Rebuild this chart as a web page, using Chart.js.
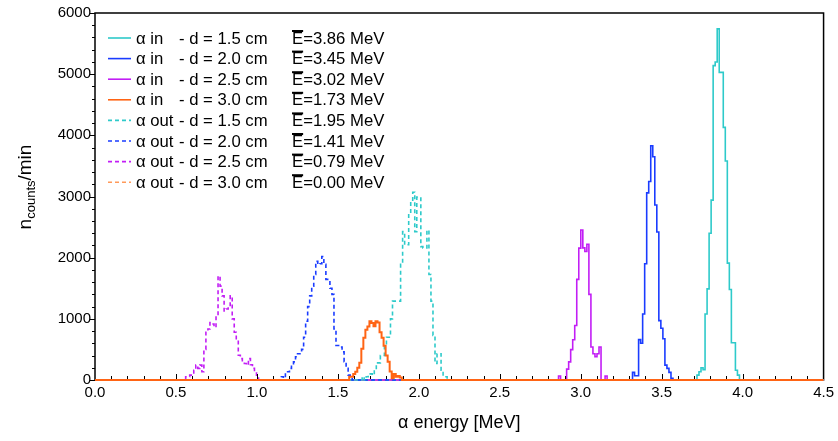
<!DOCTYPE html>
<html>
<head>
<meta charset="utf-8">
<script src="https://cdn.jsdelivr.net/npm/chart.js@4"></script>
<style>
  body { margin: 0; background: #fff; }
  #wrap { width: 838px; height: 441px; }
</style>
</head>
<body>
<div id="wrap"><canvas id="c" width="838" height="441"></canvas></div>
<script>
// histogram bin width in MeV
const binWidth = 0.0125;

const distances = ['1.5', '2.0', '2.5', '3.0'];
const meanIn = ['3.86', '3.45', '3.02', '1.73'];
const meanOut = ['1.95', '1.41', '0.79', '0.00'];
const colors = ['#2ecaca', '#1a3cff', '#c21ef5', '#ff6414'];
const outColors = ['#2ecaca', '#1a3cff', '#c21ef5', '#ff9a5a'];

// alpha in: first bin energy + counts per bin
const inStart = [3.718, 3.320, 2.863, 1.570];
const in15 = [80, 135, 200, 170, 1080, 1490, 2400, 2940, 5140, 5200, 5740, 5030, 5030, 4130, 3580, 1910, 1480, 610, 610, 160, 80];
const in20 = [124, 70, 70, 660, 600, 1080, 1900, 3060, 3245, 3830, 3650, 2860, 2420, 970, 846, 674, 243, 190, 124, 27];
const in25 = [65, 0, 0, 0, 178, 296, 496, 658, 890, 1645, 2156, 2452, 2160, 2100, 2220, 1400, 540, 430, 380, 430, 540, 0, 0, 65];
const in30 = [54, 54, 100, 135, 200, 280, 512, 690, 820, 873, 960, 930, 880, 960, 940, 780, 690, 560, 400, 300, 140, 27, 97, 54, 65, 40];

// alpha out
const outStart = [1.650, 1.151, 0.560, 2.0];
const out15 = [54, 0, 54, 80, 100, 80, 160, 280, 280, 400, 400, 560, 700, 700, 1000, 1290, 1290, 1290, 1290, 1890, 2425, 2210, 2210, 2700, 2910, 3070, 2425, 2990, 2990, 2180, 2160, 2160, 2450, 1725, 1290, 730, 270, 430, 430, 160, 54, 54];
const out20 = [54, 30, 135, 135, 190, 240, 296, 380, 430, 430, 500, 700, 960, 1200, 1375, 1535, 1725, 1940, 1890, 1900, 2020, 1890, 1645, 1645, 1500, 1400, 835, 565, 565, 540, 460, 300, 190, 80, 54];
const out25 = [54, 54, 80, 80, 160, 243, 190, 243, 135, 500, 780, 835, 940, 916, 862, 1050, 1700, 1535, 1375, 1130, 1160, 1200, 1375, 1000, 780, 674, 404, 350, 300, 270, 243, 350, 250, 190, 135, 80];
const out30 = [];

const xTicks = [0, 0.5, 1.0, 1.5, 2.0, 2.5, 3.0, 3.5, 4.0, 4.5];
const yTicks = [0, 1000, 2000, 3000, 4000, 5000, 6000];

function histPoints(start, counts) {
  const pts = [{ x: 0, y: 0 }];
  counts.forEach((c, i) => pts.push({ x: start + i * binWidth, y: c }));
  pts.push({ x: start + counts.length * binWidth, y: 0 });
  pts.push({ x: 4.5, y: 0 });
  return pts;
}

const inCounts = [in15, in20, in25, in30];
const outCounts = [out15, out20, out25, out30];

const datasets = [];
inCounts.forEach((c, i) => {
  datasets.push({
    label: 'in ' + distances[i],
    data: histPoints(inStart[i], c),
    borderColor: colors[i],
    borderWidth: i === 3 ? 2 : 1.6,
    stepped: 'before',
    pointRadius: 0,
    clip: 3,
    order: i === 3 ? 0 : 2,
  });
});
outCounts.forEach((c, i) => {
  datasets.push({
    label: 'out ' + distances[i],
    data: histPoints(outStart[i], c),
    borderColor: outColors[i],
    borderWidth: 1.6,
    borderDash: [4, 3],
    stepped: 'before',
    pointRadius: 0,
    clip: 3,
    order: 1,
  });
});

const FONT = '"Liberation Sans", Arial, sans-serif';

const decorations = {
  id: 'decorations',
  beforeDatasetsDraw(chart) {
    const { ctx, chartArea: a } = chart;
    ctx.save();
    ctx.strokeStyle = '#000';
    ctx.lineWidth = 1.5;
    ctx.strokeRect(a.left, a.top, a.right - a.left, a.bottom - a.top);
    ctx.restore();
  },
  afterDraw(chart) {
    const { ctx, chartArea: a, scales } = chart;
    const xs = scales.x, ys = scales.y;
    ctx.save();
    ctx.strokeStyle = '#000';

    // x ticks, inward, major 0.5 minor 0.1
    ctx.lineWidth = 1;
    for (let i = 1; i < 45; i++) {
      const px = Math.round(xs.getPixelForValue(i / 10)) + 0.5;
      const len = i % 5 === 0 ? 5 : 3;
      ctx.beginPath();
      ctx.moveTo(px, a.bottom - 1);
      ctx.lineTo(px, a.bottom - 1 - len);
      ctx.stroke();
    }
    // y ticks, outward, major 1000 minor 200
    for (let v = 0; v <= 6000; v += 200) {
      const py = Math.round(ys.getPixelForValue(v)) + 0.5;
      const len = v % 1000 === 0 ? 5 : 3;
      ctx.beginPath();
      ctx.moveTo(a.left, py);
      ctx.lineTo(a.left - len, py);
      ctx.stroke();
    }

    // axis titles
    ctx.fillStyle = '#000';
    ctx.textBaseline = 'middle';
    ctx.textAlign = 'center';
    ctx.font = '18px ' + FONT;
    ctx.fillText('\u03b1 energy [MeV]', (a.left + a.right) / 2, 423);

    ctx.save();
    ctx.translate(26, 187);
    ctx.rotate(-Math.PI / 2);
    ctx.textAlign = 'left';
    ctx.font = '19px ' + FONT;
    const wN = ctx.measureText('n').width;
    const wM = ctx.measureText('/min').width;
    ctx.font = '13px ' + FONT;
    const wC = ctx.measureText('counts').width;
    let x0 = -(wN + wC + wM) / 2;
    ctx.font = '19px ' + FONT;
    ctx.fillText('n', x0, 0);
    ctx.font = '13px ' + FONT;
    ctx.fillText('counts', x0 + wN, 5);
    ctx.font = '19px ' + FONT;
    ctx.fillText('/min', x0 + wN + wC, 0);
    ctx.restore();

    // legend
    ctx.textAlign = 'left';
    ctx.font = '16.7px ' + FONT;
    const rows = [];
    for (let i = 0; i < 4; i++) rows.push({ kind: 'in', d: distances[i], m: meanIn[i], col: colors[i], dash: [] });
    for (let i = 0; i < 4; i++) rows.push({ kind: 'out', d: distances[i], m: meanOut[i], col: outColors[i], dash: [4, 3] });
    rows.forEach((r, i) => {
      const y = 39 + i * 20.6;
      ctx.strokeStyle = r.col;
      ctx.lineWidth = 1.6;
      ctx.setLineDash(r.dash);
      ctx.beginPath();
      ctx.moveTo(108, y - 1);
      ctx.lineTo(131, y - 1);
      ctx.stroke();
      ctx.setLineDash([]);
      ctx.fillStyle = '#000';
      ctx.fillText('\u03b1 ' + r.kind, 136, y);
      ctx.fillText('- d = ' + r.d + ' cm', 179, y);
      ctx.fillText('E', 292, y);
      const wE = ctx.measureText('E').width;
      ctx.fillRect(292, y - 9, wE, 2);
      ctx.fillText('=' + r.m + ' MeV', 292 + wE, y);
    });
    ctx.restore();
  }
};

new Chart(document.getElementById('c'), {
  type: 'line',
  data: { datasets },
  options: {
    responsive: false,
    animation: false,
    layout: { padding: { top: 9, right: 12, left: 0, bottom: 0 } },
    plugins: { legend: { display: false }, tooltip: { enabled: false } },
    scales: {
      x: {
        type: 'linear',
        min: 0,
        max: 4.5,
        afterBuildTicks: (s) => { s.ticks = xTicks.map(v => ({ value: v })); },
        afterFit: (s) => { s.height = 61; },
        grid: { display: false, drawTicks: false },
        border: { display: false },
        ticks: {
          color: '#000',
          padding: 4,
          maxRotation: 0,
          font: { family: FONT, size: 15 },
          callback: (v) => v.toFixed(1),
        },
      },
      y: {
        type: 'linear',
        min: 0,
        max: 6000,
        afterBuildTicks: (s) => { s.ticks = yTicks.map(v => ({ value: v })); },
        afterFit: (s) => { s.width = 95; },
        grid: { display: false, drawTicks: false },
        border: { display: false },
        ticks: {
          color: '#000',
          padding: 4,
          font: { family: FONT, size: 15 },
          callback: (v) => String(v),
        },
      },
    },
  },
  plugins: [decorations],
});
</script>
</body>
</html>
